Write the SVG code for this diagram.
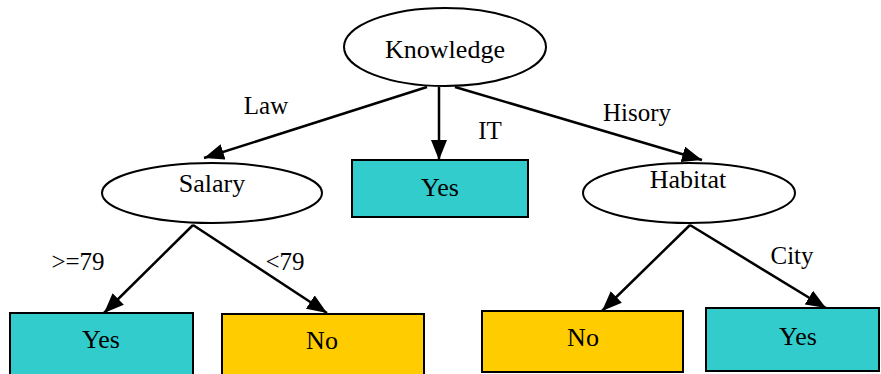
<svg xmlns="http://www.w3.org/2000/svg" width="881" height="374" viewBox="0 0 881 374">
<defs>
<style>
.t{font-family:"Liberation Serif","Times New Roman",serif;font-size:26px;fill:#000;text-anchor:middle}
.l{font-family:"Liberation Serif","Times New Roman",serif;font-size:25px;fill:#000;text-anchor:middle}
.e{fill:#fff;stroke:#000;stroke-width:2}
.yes{fill:#33CCCC;stroke:#000;stroke-width:2}
.no{fill:#FFCC00;stroke:#000;stroke-width:2}
.c{stroke:#000;stroke-width:2.5;fill:none;marker-end:url(#ah)}
</style>
<marker id="ah" markerUnits="userSpaceOnUse" markerWidth="20" markerHeight="16" refX="20" refY="8" orient="auto">
<path d="M0,0 L20,8 L0,16 Z" fill="#000"/>
</marker>
</defs>
<g id="connectors">
<line class="c" x1="427" y1="87" x2="204" y2="158"/>
<line class="c" x1="439" y1="87" x2="439" y2="160"/>
<line class="c" x1="455" y1="87" x2="702" y2="160"/>
<line class="c" x1="193" y1="225" x2="104" y2="313"/>
<line class="c" x1="193" y1="225" x2="327" y2="313"/>
<line class="c" x1="690" y1="225" x2="602" y2="311"/>
<line class="c" x1="690" y1="225" x2="826" y2="308"/>
<text class="l" x="266" y="114">Law</text>
<text class="l" x="490" y="139">IT</text>
<text class="l" x="637" y="121">Hisory</text>
<text class="l" x="78" y="270">&gt;=79</text>
<text class="l" x="285" y="270">&lt;79</text>
<text class="l" x="792" y="264">City</text>
</g>
<g id="knowledge">
<ellipse class="e" cx="445" cy="47" rx="101" ry="39"/>
<text class="t" x="445" y="58">Knowledge</text>
</g>
<g id="salary">
<ellipse class="e" cx="212" cy="193" rx="110" ry="30"/>
<text class="t" x="212" y="192">Salary</text>
</g>
<g id="yes-it">
<rect class="yes" x="352" y="160" width="176" height="57"/>
<text class="t" x="440" y="196">Yes</text>
</g>
<g id="habitat">
<ellipse class="e" cx="689" cy="193" rx="106" ry="30"/>
<text class="t" x="688" y="188">Habitat</text>
</g>
<g id="yes-salary">
<rect class="yes" x="10" y="313" width="183" height="64"/>
<text class="t" x="101" y="348">Yes</text>
</g>
<g id="no-salary">
<rect class="no" x="222" y="314" width="202" height="64"/>
<text class="t" x="322" y="349">No</text>
</g>
<g id="no-habitat">
<rect class="no" x="482" y="311" width="201" height="61"/>
<text class="t" x="583" y="346">No</text>
</g>
<g id="yes-habitat">
<rect class="yes" x="706" y="308" width="173" height="63"/>
<text class="t" x="798" y="345">Yes</text>
</g>
</svg>
